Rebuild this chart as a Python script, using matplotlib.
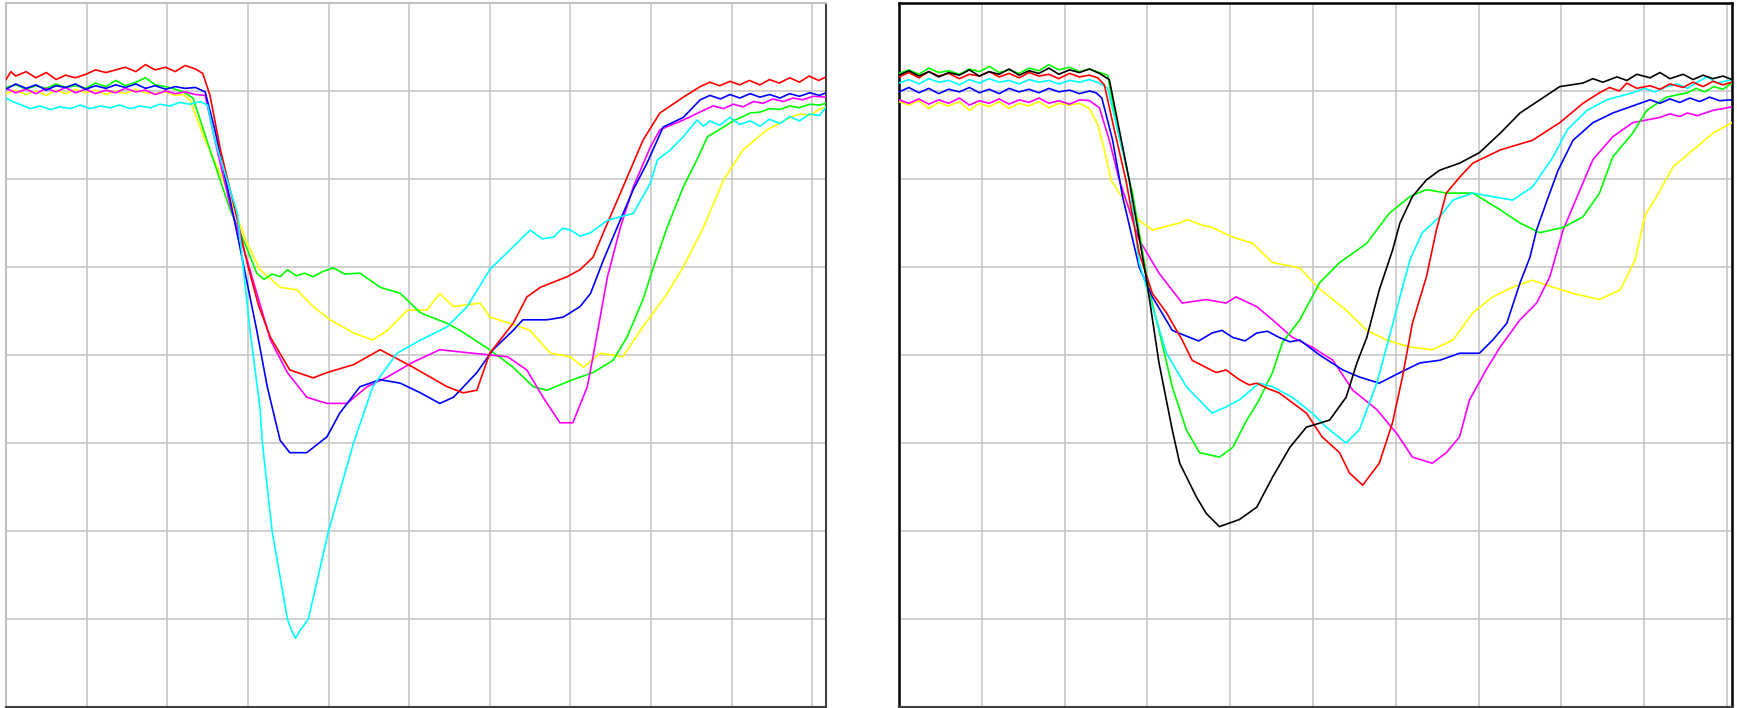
import matplotlib
matplotlib.use("Agg")
import matplotlib.pyplot as plt
import numpy as np

# (time, level) readings; time and level both in grid divisions, level 8 = top edge

# ---- left panel ----
l_red = [(0, 7.13), (0.06, 7.22), (0.12, 7.17), (0.25, 7.22), (0.37, 7.15), (0.50, 7.21), (0.62, 7.13), (0.74, 7.18),
         (0.86, 7.15), (0.99, 7.19), (1.11, 7.24), (1.24, 7.21), (1.36, 7.24), (1.48, 7.27), (1.61, 7.22), (1.73, 7.30),
         (1.85, 7.24), (1.98, 7.27), (2.10, 7.22), (2.22, 7.29), (2.35, 7.25), (2.44, 7.20), (2.53, 6.95), (2.66, 6.33),
         (2.84, 5.65), (2.99, 5.05), (3.13, 4.57), (3.28, 4.20), (3.52, 3.83), (3.81, 3.74), (3.98, 3.80), (4.31, 3.89),
         (4.64, 4.06), (5.05, 3.86), (5.47, 3.64), (5.67, 3.57), (5.84, 3.60), (6.00, 4.02), (6.29, 4.36), (6.46, 4.66),
         (6.63, 4.77), (6.96, 4.89), (7.12, 4.97), (7.28, 5.11), (7.46, 5.50), (7.62, 5.84), (7.90, 6.44), (8.11, 6.75),
         (8.40, 6.93), (8.61, 7.05), (8.73, 7.10), (8.85, 7.06), (8.98, 7.11), (9.10, 7.07), (9.22, 7.12), (9.35, 7.07),
         (9.47, 7.13), (9.59, 7.09), (9.72, 7.15), (9.84, 7.10), (9.96, 7.17), (10.08, 7.12), (10.17, 7.16)]

l_blue = [(0, 7.02), (0.12, 7.08), (0.25, 7.03), (0.37, 7.07), (0.50, 7.01), (0.62, 7.06), (0.74, 7.04), (0.86, 7.08),
          (0.99, 7.02), (1.11, 7.06), (1.24, 7.03), (1.36, 7.07), (1.48, 7.04), (1.61, 7.08), (1.73, 7.03), (1.85, 7.06),
          (1.98, 7.02), (2.10, 7.05), (2.22, 7.03), (2.35, 7.04), (2.47, 6.99), (2.59, 6.56), (2.78, 5.76), (2.90, 5.23),
          (3.11, 4.28), (3.24, 3.64), (3.40, 3.03), (3.52, 2.89), (3.73, 2.89), (3.98, 3.07), (4.14, 3.34), (4.39, 3.64),
          (4.64, 3.72), (4.89, 3.68), (5.14, 3.57), (5.38, 3.45), (5.55, 3.52), (5.84, 3.80), (6.04, 4.06), (6.29, 4.28),
          (6.41, 4.40), (6.71, 4.40), (6.91, 4.43), (7.12, 4.55), (7.25, 4.70), (7.41, 5.08), (7.58, 5.45), (7.78, 5.88),
          (7.95, 6.18), (8.15, 6.59), (8.40, 6.70), (8.61, 6.90), (8.73, 6.95), (8.86, 6.91), (8.98, 6.96), (9.10, 6.92),
          (9.23, 6.97), (9.35, 6.93), (9.47, 6.96), (9.60, 6.92), (9.72, 6.97), (9.84, 6.94), (9.97, 6.98),
          (10.09, 6.95), (10.17, 6.98)]

l_magenta = [(0, 7.03), (0.12, 6.98), (0.25, 7.02), (0.37, 6.97), (0.50, 7.03), (0.62, 6.99), (0.74, 7.04),
             (0.86, 6.98), (0.99, 7.02), (1.11, 6.97), (1.24, 7.01), (1.36, 6.98), (1.48, 7.03), (1.61, 6.99),
             (1.73, 7.01), (1.85, 6.96), (1.98, 7.00), (2.10, 6.97), (2.22, 6.99), (2.35, 6.96), (2.47, 6.95),
             (2.59, 6.44), (2.78, 5.70), (2.99, 5.08), (3.28, 4.17), (3.49, 3.80), (3.73, 3.52), (3.98, 3.45),
             (4.23, 3.45), (4.48, 3.64), (4.73, 3.75), (5.05, 3.92), (5.38, 4.06), (5.79, 4.02), (6.22, 3.98),
             (6.46, 3.83), (6.66, 3.52), (6.87, 3.23), (7.03, 3.23), (7.21, 3.64), (7.28, 3.98), (7.46, 4.89),
             (7.62, 5.45), (7.78, 5.91), (7.99, 6.36), (8.11, 6.56), (8.40, 6.67), (8.65, 6.78), (8.77, 6.83),
             (8.90, 6.80), (9.02, 6.85), (9.14, 6.82), (9.27, 6.88), (9.39, 6.86), (9.51, 6.91), (9.64, 6.88),
             (9.76, 6.92), (9.88, 6.90), (10.01, 6.94), (10.17, 6.93)]

l_green = [(0, 7.04), (0.12, 7.07), (0.25, 7.02), (0.37, 7.06), (0.50, 7.03), (0.62, 7.08), (0.74, 7.04), (0.86, 7.06),
           (0.99, 7.03), (1.11, 7.09), (1.24, 7.05), (1.36, 7.12), (1.48, 7.06), (1.61, 7.10), (1.73, 7.15),
           (1.85, 7.07), (1.98, 7.05), (2.10, 7.02), (2.20, 6.99), (2.32, 6.92), (2.53, 6.33), (2.78, 5.65),
           (2.97, 5.25), (3.11, 4.93), (3.20, 4.86), (3.30, 4.92), (3.40, 4.89), (3.49, 4.97), (3.60, 4.90),
           (3.70, 4.93), (3.81, 4.89), (3.93, 4.95), (4.06, 4.99), (4.20, 4.92), (4.39, 4.93), (4.64, 4.77),
           (4.89, 4.70), (5.14, 4.48), (5.47, 4.36), (5.63, 4.28), (6.00, 4.06), (6.29, 3.86), (6.54, 3.64),
           (6.71, 3.60), (7.03, 3.72), (7.28, 3.80), (7.53, 3.94), (7.70, 4.20), (7.90, 4.63), (8.03, 5.00),
           (8.20, 5.45), (8.40, 5.91), (8.57, 6.22), (8.70, 6.48), (8.90, 6.59), (9.02, 6.66), (9.14, 6.71),
           (9.23, 6.75), (9.35, 6.76), (9.47, 6.80), (9.60, 6.79), (9.72, 6.83), (9.84, 6.81), (9.97, 6.85),
           (10.09, 6.84), (10.17, 6.86)]

l_yellow = [(0, 6.97), (0.12, 7.01), (0.25, 6.96), (0.37, 7.00), (0.50, 6.95), (0.62, 7.01), (0.74, 6.97),
            (0.86, 7.02), (0.99, 6.98), (1.11, 7.01), (1.24, 6.96), (1.36, 7.00), (1.48, 6.97), (1.61, 7.02),
            (1.73, 6.98), (1.85, 6.97), (1.98, 6.99), (2.10, 6.95), (2.20, 6.96), (2.28, 6.90), (2.47, 6.44),
            (2.69, 5.99), (2.99, 5.27), (3.15, 4.97), (3.40, 4.77), (3.61, 4.74), (3.81, 4.55), (4.02, 4.40),
            (4.31, 4.25), (4.55, 4.17), (4.73, 4.28), (4.98, 4.51), (5.22, 4.51), (5.38, 4.70), (5.55, 4.55),
            (5.88, 4.59), (6.00, 4.43), (6.25, 4.36), (6.50, 4.28), (6.75, 4.02), (7.00, 3.98), (7.16, 3.86),
            (7.37, 4.02), (7.65, 3.98), (7.90, 4.32), (8.20, 4.70), (8.40, 5.00), (8.65, 5.45), (8.90, 5.99),
            (9.14, 6.33), (9.44, 6.56), (9.73, 6.70), (9.85, 6.74), (9.97, 6.72), (10.08, 6.79), (10.17, 6.82)]

l_cyan = [(0, 6.92), (0.08, 6.88), (0.17, 6.85), (0.30, 6.80), (0.42, 6.83), (0.55, 6.79), (0.67, 6.82), (0.80, 6.80),
          (0.92, 6.84), (1.04, 6.80), (1.17, 6.83), (1.29, 6.81), (1.41, 6.84), (1.54, 6.80), (1.66, 6.83),
          (1.79, 6.81), (1.91, 6.85), (2.03, 6.83), (2.16, 6.87), (2.28, 6.85), (2.41, 6.88), (2.50, 6.84),
          (2.59, 6.44), (2.87, 5.61), (3.03, 4.25), (3.15, 3.40), (3.18, 3.00), (3.30, 2.00), (3.49, 1.00),
          (3.55, 0.85), (3.59, 0.78), (3.64, 0.86), (3.75, 1.00), (4.00, 2.00), (4.31, 3.00), (4.55, 3.64),
          (4.85, 4.02), (5.14, 4.17), (5.47, 4.32), (5.72, 4.55), (6.00, 4.97), (6.29, 5.23), (6.50, 5.42),
          (6.65, 5.32), (6.79, 5.34), (6.90, 5.44), (7.00, 5.42), (7.12, 5.35), (7.25, 5.39), (7.46, 5.53),
          (7.78, 5.61), (7.99, 5.95), (8.08, 6.22), (8.24, 6.33), (8.40, 6.48), (8.57, 6.67), (8.65, 6.60),
          (8.73, 6.66), (8.85, 6.61), (8.98, 6.70), (9.10, 6.62), (9.23, 6.66), (9.35, 6.60), (9.47, 6.68),
          (9.60, 6.63), (9.72, 6.71), (9.84, 6.66), (9.97, 6.74), (10.09, 6.72), (10.17, 6.82)]

# ---- right panel ----
r_black = [(0, 7.18), (0.12, 7.23), (0.24, 7.17), (0.36, 7.22), (0.48, 7.16), (0.60, 7.21), (0.73, 7.18),
           (0.85, 7.24), (0.97, 7.17), (1.09, 7.22), (1.21, 7.19), (1.33, 7.25), (1.45, 7.18), (1.57, 7.23),
           (1.69, 7.20), (1.81, 7.26), (1.93, 7.19), (2.06, 7.24), (2.18, 7.21), (2.30, 7.25), (2.42, 7.20),
           (2.54, 7.13), (2.66, 6.56), (2.78, 5.99), (2.99, 4.85), (3.14, 3.91), (3.30, 3.15), (3.39, 2.77),
           (3.59, 2.39), (3.71, 2.20), (3.87, 2.05), (4.11, 2.13), (4.32, 2.27), (4.51, 2.61), (4.72, 2.95),
           (4.92, 3.18), (5.20, 3.26), (5.40, 3.52), (5.53, 3.91), (5.65, 4.20), (5.80, 4.74), (5.96, 5.19),
           (6.05, 5.50), (6.20, 5.80), (6.37, 5.99), (6.53, 6.10), (6.77, 6.18), (7.01, 6.30), (7.26, 6.52),
           (7.50, 6.75), (7.74, 6.90), (7.98, 7.05), (8.26, 7.09), (8.38, 7.14), (8.50, 7.10), (8.67, 7.16),
           (8.79, 7.12), (8.91, 7.19), (9.07, 7.15), (9.19, 7.21), (9.31, 7.14), (9.47, 7.19), (9.59, 7.13),
           (9.71, 7.18), (9.83, 7.14), (9.95, 7.17), (10.06, 7.13)]

r_red = [(0, 7.16), (0.12, 7.21), (0.24, 7.15), (0.36, 7.22), (0.48, 7.17), (0.60, 7.20), (0.73, 7.14), (0.85, 7.19),
         (0.97, 7.17), (1.09, 7.22), (1.21, 7.16), (1.33, 7.20), (1.45, 7.15), (1.57, 7.21), (1.69, 7.17),
         (1.81, 7.19), (1.93, 7.14), (2.06, 7.20), (2.18, 7.16), (2.30, 7.18), (2.40, 7.15), (2.48, 7.07),
         (2.60, 6.56), (2.74, 5.99), (2.90, 5.16), (3.06, 4.70), (3.23, 4.48), (3.42, 4.17), (3.54, 3.94),
         (3.83, 3.80), (3.95, 3.83), (4.11, 3.72), (4.23, 3.66), (4.32, 3.68), (4.45, 3.62), (4.59, 3.57),
         (4.92, 3.34), (5.11, 3.07), (5.32, 2.89), (5.44, 2.66), (5.60, 2.52), (5.80, 2.77), (5.96, 3.23),
         (6.08, 3.75), (6.20, 4.36), (6.37, 4.89), (6.49, 5.42), (6.61, 5.84), (6.77, 6.02), (6.93, 6.18),
         (7.26, 6.33), (7.65, 6.44), (7.98, 6.64), (8.26, 6.86), (8.46, 6.98), (8.58, 7.04), (8.70, 7.00),
         (8.79, 7.09), (8.91, 7.03), (9.07, 7.06), (9.19, 7.02), (9.31, 7.08), (9.47, 7.04), (9.59, 7.10),
         (9.71, 7.05), (9.83, 7.11), (9.95, 7.07), (10.06, 7.10)]

r_green = [(0, 7.20), (0.12, 7.24), (0.24, 7.19), (0.36, 7.26), (0.48, 7.21), (0.60, 7.23), (0.73, 7.19),
           (0.85, 7.25), (0.97, 7.22), (1.09, 7.28), (1.21, 7.21), (1.33, 7.24), (1.45, 7.20), (1.57, 7.26),
           (1.69, 7.23), (1.81, 7.30), (1.93, 7.24), (2.06, 7.27), (2.18, 7.22), (2.30, 7.25), (2.42, 7.21),
           (2.52, 7.18), (2.64, 6.56), (2.82, 5.84), (3.02, 4.74), (3.14, 4.28), (3.30, 3.64), (3.47, 3.15),
           (3.63, 2.89), (3.87, 2.84), (4.03, 2.95), (4.20, 3.26), (4.35, 3.49), (4.51, 3.80), (4.63, 4.14),
           (4.84, 4.40), (5.08, 4.82), (5.32, 5.05), (5.65, 5.27), (5.92, 5.61), (6.17, 5.80), (6.37, 5.88),
           (6.61, 5.84), (6.93, 5.84), (7.26, 5.65), (7.50, 5.50), (7.74, 5.39), (8.02, 5.45), (8.26, 5.57),
           (8.46, 5.84), (8.62, 6.25), (8.86, 6.52), (9.03, 6.78), (9.27, 6.93), (9.52, 6.98), (9.63, 7.03),
           (9.73, 6.99), (9.84, 7.05), (9.95, 7.02), (10.06, 7.09)]

r_cyan = [(0, 7.09), (0.12, 7.13), (0.24, 7.08), (0.36, 7.14), (0.48, 7.10), (0.60, 7.12), (0.73, 7.07), (0.85, 7.13),
          (0.97, 7.09), (1.09, 7.14), (1.21, 7.10), (1.33, 7.12), (1.45, 7.08), (1.57, 7.13), (1.69, 7.10),
          (1.81, 7.12), (1.93, 7.08), (2.06, 7.12), (2.18, 7.10), (2.30, 7.13), (2.42, 7.09), (2.52, 7.03),
          (2.64, 6.56), (2.78, 5.99), (2.90, 5.05), (3.06, 4.55), (3.23, 4.02), (3.47, 3.64), (3.78, 3.34),
          (3.95, 3.41), (4.11, 3.49), (4.35, 3.68), (4.51, 3.64), (4.75, 3.52), (4.99, 3.34), (5.16, 3.18),
          (5.40, 3.00), (5.56, 3.15), (5.77, 3.68), (5.92, 4.20), (6.05, 4.66), (6.17, 5.08), (6.32, 5.39),
          (6.53, 5.57), (6.69, 5.76), (6.93, 5.84), (7.17, 5.80), (7.41, 5.76), (7.65, 5.91), (7.90, 6.25),
          (8.07, 6.56), (8.31, 6.78), (8.55, 6.90), (8.86, 6.98), (9.00, 7.03), (9.13, 6.99), (9.27, 7.05),
          (9.40, 7.08), (9.52, 7.03), (9.64, 7.10), (9.76, 7.16), (9.88, 7.09), (10.06, 7.13)]

r_blue = [(0, 6.99), (0.12, 7.04), (0.24, 6.98), (0.36, 7.03), (0.48, 6.97), (0.60, 7.02), (0.73, 6.99), (0.85, 7.04),
          (0.97, 6.98), (1.09, 7.02), (1.21, 6.97), (1.33, 7.03), (1.45, 6.99), (1.57, 7.02), (1.69, 6.98),
          (1.81, 7.03), (1.93, 6.99), (2.06, 7.01), (2.18, 6.97), (2.30, 7.00), (2.38, 6.98), (2.45, 6.92),
          (2.58, 6.44), (2.70, 5.80), (2.90, 5.00), (3.06, 4.66), (3.30, 4.28), (3.51, 4.20), (3.62, 4.16),
          (3.78, 4.25), (3.90, 4.28), (4.03, 4.20), (4.18, 4.16), (4.32, 4.25), (4.45, 4.27), (4.59, 4.20),
          (4.72, 4.15), (4.84, 4.17), (5.08, 4.00), (5.36, 3.83), (5.56, 3.75), (5.80, 3.68), (6.05, 3.80),
          (6.29, 3.91), (6.53, 3.94), (6.77, 4.02), (7.01, 4.02), (7.17, 4.17), (7.34, 4.36), (7.50, 4.82),
          (7.62, 5.11), (7.70, 5.42), (7.82, 5.74), (7.96, 6.10), (8.14, 6.44), (8.38, 6.64), (8.62, 6.75),
          (8.95, 6.86), (9.07, 6.90), (9.19, 6.86), (9.31, 6.91), (9.43, 6.87), (9.55, 6.92), (9.67, 6.88),
          (9.79, 6.93), (9.91, 6.89), (10.06, 6.90)]

r_magenta = [(0, 6.90), (0.12, 6.86), (0.24, 6.91), (0.36, 6.85), (0.48, 6.90), (0.60, 6.86), (0.73, 6.92),
             (0.85, 6.84), (0.97, 6.89), (1.09, 6.86), (1.21, 6.91), (1.33, 6.85), (1.45, 6.90), (1.57, 6.87),
             (1.69, 6.92), (1.81, 6.86), (1.93, 6.89), (2.06, 6.85), (2.18, 6.90), (2.30, 6.89), (2.42, 6.81),
             (2.54, 6.44), (2.66, 5.99), (2.90, 5.31), (3.14, 4.93), (3.42, 4.59), (3.71, 4.63), (3.95, 4.59),
             (4.07, 4.66), (4.32, 4.55), (4.51, 4.40), (4.75, 4.20), (4.99, 4.09), (5.24, 3.94), (5.48, 3.60),
             (5.77, 3.38), (6.01, 3.11), (6.20, 2.84), (6.44, 2.77), (6.61, 2.89), (6.77, 3.07), (6.89, 3.49),
             (7.09, 3.83), (7.26, 4.09), (7.50, 4.40), (7.70, 4.59), (7.86, 4.89), (8.02, 5.42), (8.19, 5.80),
             (8.38, 6.22), (8.62, 6.48), (8.86, 6.64), (9.19, 6.70), (9.31, 6.74), (9.43, 6.71), (9.52, 6.75),
             (9.64, 6.72), (9.83, 6.78), (9.95, 6.80), (10.06, 6.82)]

r_yellow = [(0, 6.88), (0.12, 6.84), (0.24, 6.89), (0.36, 6.80), (0.48, 6.87), (0.60, 6.83), (0.73, 6.88),
            (0.85, 6.78), (0.97, 6.86), (1.09, 6.82), (1.21, 6.88), (1.33, 6.80), (1.45, 6.86), (1.57, 6.83),
            (1.69, 6.88), (1.81, 6.81), (1.93, 6.86), (2.06, 6.84), (2.18, 6.86), (2.30, 6.80), (2.40, 6.62),
            (2.48, 6.33), (2.56, 5.99), (2.66, 5.84), (2.90, 5.53), (3.06, 5.42), (3.22, 5.46), (3.39, 5.50),
            (3.48, 5.54), (3.59, 5.50), (3.68, 5.47), (3.78, 5.45), (4.03, 5.34), (4.27, 5.27), (4.51, 5.05),
            (4.84, 4.99), (5.08, 4.75), (5.40, 4.51), (5.65, 4.28), (5.89, 4.17), (6.17, 4.09), (6.44, 4.06),
            (6.69, 4.17), (6.93, 4.48), (7.17, 4.66), (7.41, 4.77), (7.65, 4.85), (7.90, 4.77), (8.14, 4.70),
            (8.46, 4.63), (8.71, 4.74), (8.89, 5.08), (9.01, 5.59), (9.15, 5.80), (9.35, 6.14), (9.59, 6.33),
            (9.83, 6.52), (10.06, 6.64)]

left_series = [
    (l_yellow, "#ffff00"),
    (l_green, "#00ff00"),
    (l_magenta, "#ff00ff"),
    (l_blue, "#0000ff"),
    (l_red, "#ff0000"),
    (l_cyan, "#00ffff"),
]
right_series = [
    (r_yellow, "#ffff00"),
    (r_magenta, "#ff00ff"),
    (r_green, "#00ff00"),
    (r_blue, "#0000ff"),
    (r_cyan, "#00ffff"),
    (r_red, "#ff0000"),
    (r_black, "#000000"),
]

W, H = 1737, 708
fig = plt.figure(figsize=(W / 100, H / 100), dpi=100)
fig.patch.set_facecolor("white")


def make_panel(rect_px, xmax, series, spine_cols):
    x0, y0, x1, y1 = rect_px
    ax = fig.add_axes([x0 / W, 1 - y1 / H, (x1 - x0) / W, (y1 - y0) / H])
    for pts, c in series:
        t, v = zip(*pts)
        ax.plot(t, v, color=c, lw=1.2, zorder=3)
    ax.set_xlim(0, xmax)
    ax.set_ylim(0, 8)
    ax.set_xticks(np.arange(0, 11))
    ax.set_yticks(np.arange(0, 9))
    ax.grid(True, color="#c8c8c8", lw=1.2, zorder=0)
    ax.set_axisbelow(True)
    ax.tick_params(length=0, labelbottom=False, labelleft=False)
    for side, (col, lw) in spine_cols.items():
        ax.spines[side].set_color(col)
        ax.spines[side].set_linewidth(lw)
    return ax


make_panel((6, 3, 826, 707), 10.17, left_series,
           {"left": ("#c0c0c0", 1.5), "top": ("#c0c0c0", 1.5),
            "right": ("#404040", 1.5), "bottom": ("#404040", 1.5)})
make_panel((899, 3, 1732, 707), 10.06, right_series,
           {"left": ("#000000", 1.8), "top": ("#000000", 1.8),
            "right": ("#000000", 1.8), "bottom": ("#404040", 1.5)})

fig.savefig("out.png", dpi=100, facecolor="white")
